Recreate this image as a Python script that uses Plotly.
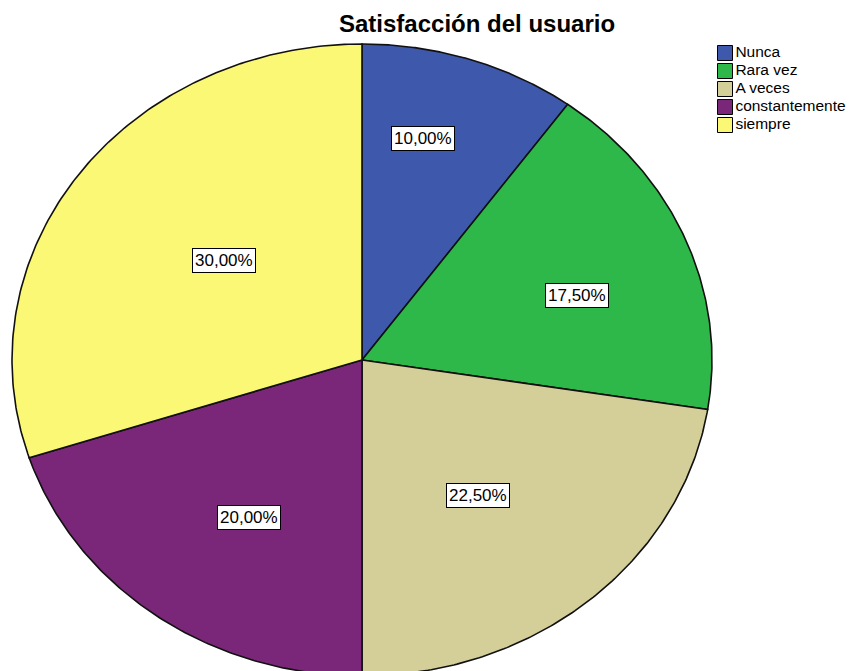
import numpy as np
import plotly.graph_objects as go

categories = ["Nunca", "Rara vez", "A veces", "constantemente", "siempre"]
percentages = [10.0, 17.5, 22.5, 20.0, 30.0]
colors = ["#3e58ac", "#2fb84a", "#d4cf98", "#7b2779", "#fbf876"]

W, H = 854, 671
off = 8                # page body margin
cx, cy = 362 - off, 360 - off   # pie centre in figure pixels
rx, ry = 350, 316      # ellipse radii in pixels
# placement of each % box: fraction of radius and angle shift from slice middle
label_radius = [0.724, 0.648, 0.543, 0.595, 0.505]
label_shift = [-4.0, 4.0, 2.9, -3.1, 2.7]

fig = go.Figure()

start = 0.0
for pct, col, lr, ls in zip(percentages, colors, label_radius, label_shift):
    end = start + pct / 100 * 2 * np.pi
    t = np.linspace(start, end, 150)
    xs = np.concatenate([[0], np.sin(t), [0]])
    ys = np.concatenate([[0], np.cos(t), [0]])
    fig.add_trace(go.Scatter(x=xs, y=ys, mode="lines", fill="toself",
                             fillcolor=col, line=dict(color="#111111", width=1.6),
                             hoverinfo="skip", showlegend=False))
    mid = (start + end) / 2 + np.radians(ls)
    fig.add_annotation(x=lr * np.sin(mid), y=lr * np.cos(mid),
                       text=f"{pct:.2f}%".replace(".", ","), showarrow=False,
                       font=dict(family="Liberation Sans, Arial", size=17, color="black"),
                       bgcolor="white", bordercolor="black", borderwidth=1, borderpad=2)
    start = end

# legend drawn on its own small axes so the row spacing matches
fig.add_trace(go.Scatter(x=[0] * len(categories), y=list(range(len(categories))),
                         xaxis="x2", yaxis="y2", mode="markers+text",
                         text=categories, textposition="middle right",
                         textfont=dict(family="Liberation Sans, Arial", size=15.5, color="black"),
                         marker=dict(symbol="square", size=15, color=colors,
                                     line=dict(color="black", width=1)),
                         hoverinfo="skip", showlegend=False, cliponaxis=False))

fig.add_annotation(x=(477 - off) / W, y=1 - (24 - off) / H, xref="paper", yref="paper",
                   text="<b>Satisfacción del usuario</b>", showarrow=False,
                   font=dict(family="Liberation Sans, Arial", size=24, color="black"),
                   xanchor="center", yanchor="middle")

fig.update_layout(
    width=W, height=H,
    margin=dict(l=0, r=0, t=0, b=0),
    paper_bgcolor="white", plot_bgcolor="rgba(0,0,0,0)",
    xaxis=dict(range=[-cx / rx, (W - cx) / rx], visible=False, fixedrange=True),
    yaxis=dict(range=[-(H - cy) / ry, cy / ry], visible=False, fixedrange=True),
    xaxis2=dict(domain=[(725 - off) / W, 1], range=[0, 1], visible=False,
                fixedrange=True, anchor="y2"),
    yaxis2=dict(domain=[1 - (134 - off) / H, 1 - (44 - off) / H], range=[4.5, -0.5],
                visible=False, fixedrange=True, anchor="x2"),
    showlegend=False,
)

fig.write_html("out.html")
